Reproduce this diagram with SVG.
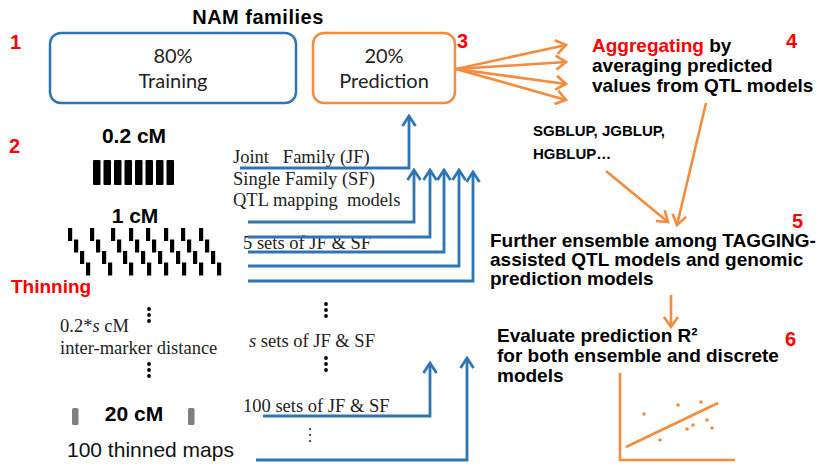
<svg xmlns="http://www.w3.org/2000/svg" width="820" height="466" viewBox="0 0 820 466">
<style>
.num{font-family:"Liberation Sans",Arial,sans-serif;font-weight:bold;font-size:20px;fill:#FF0000}
.hb{font-family:"Liberation Sans",Arial,sans-serif;font-weight:bold;fill:#000}
.box{font-family:Lato,"Open Sans",sans-serif;font-size:20px;fill:#222;text-anchor:middle}
.tm{font-family:"Liberation Serif","Times New Roman",serif;font-size:18.5px;fill:#222}
.bl{fill:none;stroke:#2E75B6;stroke-width:2.8;marker-end:url(#ab)}
.or{fill:none;stroke:#F58B3D;stroke-width:2.6;marker-end:url(#ao)}
.ol{fill:none;stroke:#F58B3D;stroke-width:2.6}
.dot{fill:#000}
.dash{fill:#000}
</style>
<defs>
<marker id="ab" markerUnits="userSpaceOnUse" markerWidth="24" markerHeight="24" viewBox="-12 -12 24 24" refX="0" refY="0" orient="auto"><path d="M-10,-6.5 L0,0 L-10,6.5" fill="none" stroke="#2E75B6" stroke-width="2.8"/></marker>
<marker id="ao" markerUnits="userSpaceOnUse" markerWidth="24" markerHeight="24" viewBox="-12 -12 24 24" refX="0" refY="0" orient="auto"><path d="M-10,-7 L0,0 L-10,7" fill="none" stroke="#F58B3D" stroke-width="2.6"/></marker>
<g id="stair"><rect x="0" y="0" width="4.2" height="13"/><rect x="6" y="11.5" width="4.2" height="13"/><rect x="12" y="23" width="4.2" height="13"/><rect x="18" y="34.5" width="4.2" height="13"/></g>
<g id="vd"><circle cx="0" cy="0" r="1.9"/><circle cx="0" cy="6" r="1.9"/><circle cx="0" cy="12" r="1.9"/></g>
</defs>
<rect width="820" height="466" fill="#fff"/>

<text class="hb" x="258" y="24" font-size="20" text-anchor="middle" letter-spacing="0.5">NAM families</text>

<g id="n1"><text class="num" x="10" y="49">1</text></g>
<g id="n2"><text class="num" x="9" y="153">2</text></g>
<g id="n3"><text class="num" x="457" y="48">3</text></g>
<g id="n4"><text class="num" x="786" y="48">4</text></g>
<g id="n5"><text class="num" x="792" y="228">5</text></g>
<g id="n6"><text class="num" x="785" y="346">6</text></g>

<g id="training">
<rect x="50" y="33" width="246" height="70" rx="11" fill="none" stroke="#2E75B6" stroke-width="2.5"/>
<text class="box" x="173" y="63">80%</text>
<text class="box" x="173" y="88">Training</text>
</g>
<g id="prediction">
<rect x="313" y="33" width="142" height="70" rx="11" fill="none" stroke="#F58B3D" stroke-width="2.5"/>
<text class="box" x="384" y="63">20%</text>
<text class="box" x="384" y="88">Prediction</text>
</g>

<g id="aggregating">
<text class="hb" x="592" y="52" font-size="19"><tspan fill="#FF0000">Aggregating</tspan> by</text>
<text class="hb" x="592" y="72" font-size="19">averaging predicted</text>
<text class="hb" x="592" y="92" font-size="19">values from QTL models</text>
</g>

<g id="gblup">
<text class="hb" x="533" y="136" font-size="15">SGBLUP, JGBLUP,</text>
<text class="hb" x="533" y="159" font-size="15">HGBLUP…</text>
</g>

<g id="ensemble">
<text class="hb" x="490" y="247" font-size="19">Further ensemble among TAGGING-</text>
<text class="hb" x="490" y="266" font-size="19">assisted QTL models and genomic</text>
<text class="hb" x="490" y="285" font-size="19">prediction models</text>
</g>

<g id="evaluate">
<text class="hb" x="497" y="342" font-size="19">Evaluate prediction R²</text>
<text class="hb" x="497" y="362" font-size="19">for both ensemble and discrete</text>
<text class="hb" x="497" y="382" font-size="19">models</text>
</g>

<g id="chart">
<path class="ol" d="M620,373 V460 H735"/>
<path class="ol" d="M626,447 L718,403"/>
<g fill="#F58B3D">
<circle cx="644" cy="414" r="1.8"/><circle cx="678" cy="405" r="1.8"/><circle cx="701" cy="402" r="1.8"/>
<circle cx="660" cy="440" r="1.8"/><circle cx="687" cy="429" r="1.8"/><circle cx="693" cy="425" r="1.8"/>
<circle cx="707" cy="420" r="1.8"/><circle cx="712" cy="428" r="1.8"/>
</g>
</g>

<g id="maps">
<text class="hb" x="134" y="143" font-size="21" text-anchor="middle">0.2 cM</text>
<g class="dash">
<rect x="93" y="160" width="7.5" height="25" rx="1"/><rect x="103.5" y="160" width="7.5" height="25" rx="1"/>
<rect x="114" y="160" width="7.5" height="25" rx="1"/><rect x="124.5" y="160" width="7.5" height="25" rx="1"/>
<rect x="135" y="160" width="7.5" height="25" rx="1"/><rect x="145.5" y="160" width="7.5" height="25" rx="1"/>
<rect x="156" y="160" width="7.5" height="25" rx="1"/><rect x="166.5" y="160" width="7.5" height="25" rx="1"/>
</g>
<text class="hb" x="135" y="223" font-size="21" text-anchor="middle">1 cM</text>
<g class="dash">
<use href="#stair" x="68" y="228"/><use href="#stair" x="90" y="228"/><use href="#stair" x="111" y="228"/>
<use href="#stair" x="129" y="228"/><use href="#stair" x="146" y="228"/><use href="#stair" x="164" y="228"/>
<use href="#stair" x="181" y="228"/><use href="#stair" x="199" y="228"/>
</g>
<text class="hb" x="11" y="293" font-size="19" style="fill:#FF0000">Thinning</text>
<use href="#vd" x="149" y="309" class="dot"/>
<text class="tm" x="60" y="332">0.2*<tspan font-style="italic">s</tspan> cM</text>
<text class="tm" x="60" y="354">inter-marker distance</text>
<use href="#vd" x="149" y="364" class="dot"/>
<rect x="72" y="408" width="6.5" height="17" rx="1.5" fill="#7F7F7F"/>
<rect x="188" y="408" width="6.5" height="17" rx="1.5" fill="#7F7F7F"/>
<text class="hb" x="134" y="421" font-size="21" text-anchor="middle">20 cM</text>
<text x="67" y="457" font-family="Liberation Sans,Arial,sans-serif" font-size="21" fill="#111">100 thinned maps</text>
</g>

<g id="models">
<text class="tm" x="233" y="163" xml:space="preserve">Joint   Family (JF)</text>
<text class="tm" x="233" y="185">Single Family (SF)</text>
<text class="tm" x="233" y="206" xml:space="preserve">QTL mapping  models</text>
<text class="tm" x="243" y="249">5 sets of JF &amp; SF</text>
<use href="#vd" x="326" y="304" class="dot"/>
<text class="tm" x="249" y="347"><tspan font-style="italic">s</tspan> sets of JF &amp; SF</text>
<use href="#vd" x="326" y="358" class="dot"/>
<text class="tm" x="243" y="412">100 sets of JF &amp; SF</text>
<g fill="#555"><circle cx="310" cy="429" r="1.2"/><circle cx="310" cy="435" r="1.2"/><circle cx="310" cy="441" r="1.2"/></g>
</g>

<g id="connectors">
<path class="bl" d="M240,168 H409 V116"/>
<path class="bl" d="M248,222 H414 V170"/>
<path class="bl" d="M248,237 H430 V170"/>
<path class="bl" d="M248,252 H444 V170"/>
<path class="bl" d="M248,266 H459 V170"/>
<path class="bl" d="M248,281 H473 V172"/>
<path class="bl" d="M263,416 H430 V363"/>
<path class="bl" d="M256,460 H467 V358"/>
<path class="or" d="M456,69 L566,45"/>
<path class="or" d="M456,69 L566,62"/>
<path class="or" d="M456,69 L566,84"/>
<path class="or" d="M456,69 L566,100"/>
<path class="or" d="M706,103 L677,225"/>
<path class="or" d="M606,171 L668,222"/>
<path class="or" d="M671,295 V327"/>
</g>
</svg>
